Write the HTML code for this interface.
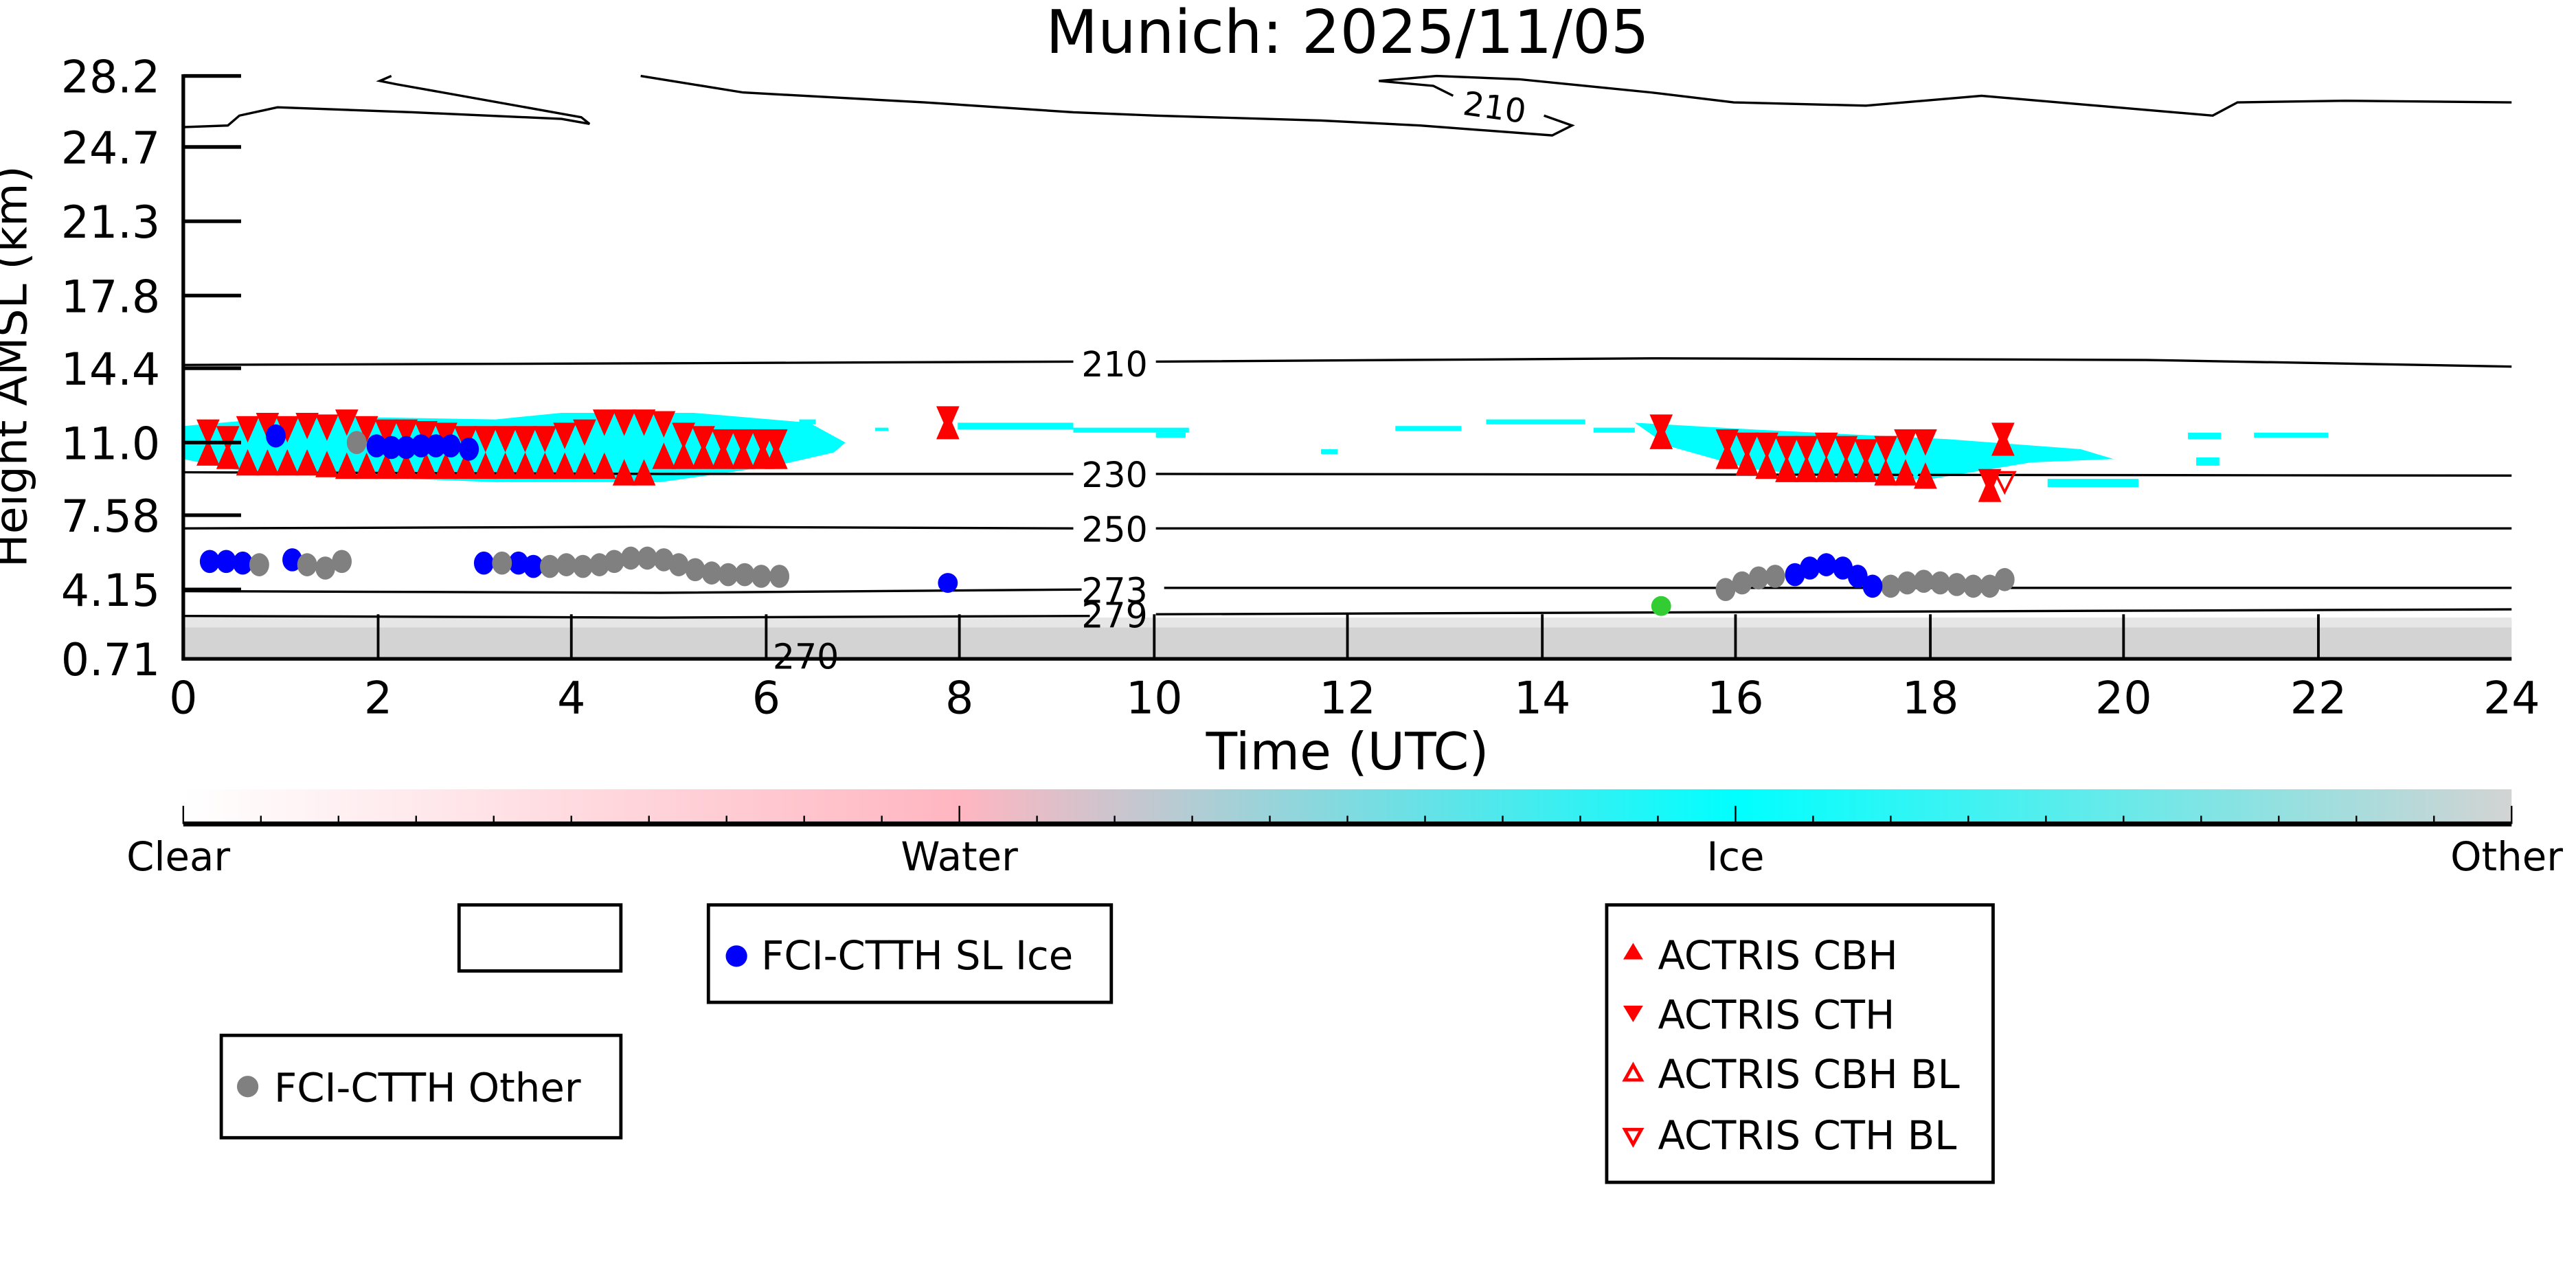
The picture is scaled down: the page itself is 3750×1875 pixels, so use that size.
<!DOCTYPE html>
<html><head><meta charset="utf-8"><style>
html,body{margin:0;padding:0;background:#fff;width:3750px;height:1875px;overflow:hidden}
svg{display:block}
text{font-family:"DejaVu Sans","Liberation Sans",sans-serif}
</style></head><body>
<svg width="3750" height="1875" viewBox="0 0 1560 780" xmlns="http://www.w3.org/2000/svg">
<defs>
<polygon id="u" points="0,-8 -7,8 7,8" fill="#f00"/>
<polygon id="d" points="-7,-8 7,-8 0,8" fill="#f00"/>
<polygon id="k" points="0,-9 -4,0 0,9 4,0" fill="#0ff"/>
<linearGradient id="cb" x1="0" x2="1" y1="0" y2="0">
<stop offset="0" stop-color="#fff"/><stop offset="0.333" stop-color="#ffb6c1"/><stop offset="0.667" stop-color="#00ffff"/><stop offset="1" stop-color="#d3d3d3"/>
</linearGradient>
</defs>
<text x="816" y="32" font-size="36.5" text-anchor="middle">Munich: 2025/11/05</text>
<!-- ground -->
<rect x="111" y="376" width="1410" height="23" fill="#d3d3d3"/>
<rect x="111" y="374" width="1410" height="6" fill="#e6e6e6"/>
<!-- cyan left -->
<path d="M111,258 L180,252 L300,254 L340,250 L420,250 L490,256 L512,268 L505,274 L470,282 L400,292 L300,292 L150,286 L111,278 Z" fill="#0ff"/>
<g fill="#0ff">
<rect x="484" y="254" width="10" height="3"/><rect x="530" y="259" width="8" height="2"/>
<rect x="580" y="256" width="70" height="4"/><rect x="650" y="259" width="70" height="3"/><rect x="700" y="262" width="18" height="3"/>
<rect x="800" y="272" width="10" height="3"/><rect x="845" y="258" width="40" height="3"/><rect x="900" y="254" width="60" height="3"/><rect x="965" y="259" width="25" height="3"/>
<path d="M990,256 L1060,260 L1180,266 L1260,272 L1280,278 L1230,280 L1170,290 L1120,290 L1060,284 L1010,270 Z"/>
<rect x="1240" y="290" width="55" height="5"/><rect x="1325" y="262" width="20" height="4"/><rect x="1330" y="277" width="14" height="5"/><rect x="1365" y="262" width="45" height="3"/>
</g>
<!-- contours -->
<g fill="none" stroke="#000" stroke-width="1.4">
<path d="M111,77 L138,76 L145,70 L168,65 L250,68 L340,72 L357,75 L352,71 L240,51 L230,49 L237,46"/>
<path d="M388,46 L450,56 L560,62 L650,68 L700,70 L800,73 L860,76 L940,82 L952,76 L935,70"/>
<path d="M880,58 L868,52 L835,49 L870,46 L920,48 L1000,56 L1050,62 L1130,64 L1200,58 L1340,70 L1355,62 L1420,61 L1521,62"/>
<path d="M111,221 L400,220 L650,219"/><path d="M700,219 L1000,217 L1300,218 L1521,222"/>
<path d="M111,286 L400,287 L650,287"/><path d="M700,287 L1521,288"/>
<path d="M111,320 L400,319 L650,320"/><path d="M700,320 L1521,320"/>
<path d="M111,358 L400,359 L655,357"/><path d="M705,356 L1521,356"/>
<path d="M111,373 L400,374 L660,373"/><path d="M700,372 L1521,369"/>
</g>
<text x="905" y="72" font-size="20" transform="rotate(8 905 66)" text-anchor="middle">210</text>
<g font-size="21" text-anchor="middle">
<text x="675" y="228">210</text><text x="675" y="295">230</text><text x="675" y="328">250</text><text x="675" y="365">273</text><text x="675" y="380">279</text><text x="488" y="405">270</text>
</g>
<g>
<use href="#k" x="129" y="268"/><use href="#k" x="152" y="268"/><use href="#k" x="176" y="268"/><use href="#k" x="199" y="268"/><use href="#k" x="222" y="268"/><use href="#k" x="246" y="268"/><use href="#k" x="270" y="268"/><use href="#k" x="293" y="270"/><use href="#k" x="316" y="270"/><use href="#k" x="340" y="270"/><use href="#k" x="363" y="268"/><use href="#k" x="386" y="268"/><use href="#k" x="410" y="268"/><use href="#k" x="433" y="270"/><use href="#k" x="456" y="270"/>
<use href="#d" x="126" y="262"/><use href="#d" x="138" y="266"/><use href="#d" x="150" y="260"/><use href="#d" x="162" y="258"/><use href="#d" x="174" y="260"/><use href="#d" x="186" y="258"/><use href="#d" x="198" y="259"/><use href="#d" x="210" y="256"/><use href="#d" x="222" y="260"/><use href="#d" x="234" y="262"/><use href="#d" x="246" y="262"/><use href="#d" x="258" y="263"/><use href="#d" x="270" y="264"/><use href="#d" x="282" y="266"/><use href="#d" x="294" y="266"/><use href="#d" x="306" y="266"/><use href="#d" x="318" y="266"/><use href="#d" x="330" y="266"/><use href="#d" x="342" y="264"/><use href="#d" x="354" y="262"/><use href="#d" x="366" y="256"/><use href="#d" x="378" y="256"/><use href="#d" x="390" y="256"/><use href="#d" x="402" y="257"/><use href="#d" x="414" y="264"/><use href="#d" x="426" y="266"/><use href="#d" x="438" y="268"/><use href="#d" x="450" y="268"/><use href="#d" x="462" y="268"/><use href="#d" x="470" y="268"/>
<use href="#u" x="126" y="274"/><use href="#u" x="138" y="276"/><use href="#u" x="150" y="280"/><use href="#u" x="162" y="280"/><use href="#u" x="174" y="280"/><use href="#u" x="186" y="280"/><use href="#u" x="198" y="281"/><use href="#u" x="210" y="282"/><use href="#u" x="222" y="282"/><use href="#u" x="234" y="282"/><use href="#u" x="246" y="282"/><use href="#u" x="258" y="282"/><use href="#u" x="270" y="282"/><use href="#u" x="282" y="282"/><use href="#u" x="294" y="282"/><use href="#u" x="306" y="282"/><use href="#u" x="318" y="282"/><use href="#u" x="330" y="282"/><use href="#u" x="342" y="282"/><use href="#u" x="354" y="282"/><use href="#u" x="366" y="282"/><use href="#u" x="378" y="286"/><use href="#u" x="390" y="286"/><use href="#u" x="402" y="276"/><use href="#u" x="414" y="276"/><use href="#u" x="426" y="276"/><use href="#u" x="438" y="276"/><use href="#u" x="450" y="276"/><use href="#u" x="462" y="276"/><use href="#u" x="470" y="276"/>
<use href="#d" x="574" y="254"/><use href="#u" x="574" y="258"/>
<use href="#d" x="1006" y="259"/><use href="#u" x="1006" y="264"/>
<use href="#d" x="1213" y="264"/><use href="#u" x="1213" y="268"/>
<use href="#d" x="1205" y="292"/><use href="#u" x="1205" y="296"/>
<polygon points="1208,286 1220,286 1214,298" fill="none" stroke="#f00" stroke-width="1.5"/>
<use href="#k" x="1060" y="276"/><use href="#k" x="1080" y="278"/><use href="#k" x="1100" y="278"/><use href="#k" x="1120" y="280"/><use href="#k" x="1140" y="280"/><use href="#k" x="1160" y="282"/>
<use href="#d" x="1046" y="268"/><use href="#d" x="1058" y="270"/><use href="#d" x="1070" y="270"/><use href="#d" x="1082" y="272"/><use href="#d" x="1094" y="272"/><use href="#d" x="1106" y="270"/><use href="#d" x="1118" y="272"/><use href="#d" x="1130" y="274"/><use href="#d" x="1142" y="272"/><use href="#d" x="1154" y="268"/><use href="#d" x="1166" y="268"/>
<use href="#u" x="1046" y="276"/><use href="#u" x="1058" y="280"/><use href="#u" x="1070" y="282"/><use href="#u" x="1082" y="284"/><use href="#u" x="1094" y="284"/><use href="#u" x="1106" y="284"/><use href="#u" x="1118" y="284"/><use href="#u" x="1130" y="284"/><use href="#u" x="1142" y="286"/><use href="#u" x="1154" y="286"/><use href="#u" x="1166" y="288"/>
</g>
<g>
<g fill="#0000ff"><ellipse cx="167" cy="264" rx="6" ry="7"/><ellipse cx="228" cy="270" rx="6" ry="7"/><ellipse cx="237" cy="271" rx="6" ry="7"/><ellipse cx="246" cy="271" rx="6" ry="7"/><ellipse cx="255" cy="270" rx="6" ry="7"/><ellipse cx="264" cy="270" rx="6" ry="7"/><ellipse cx="273" cy="270" rx="6" ry="7"/><ellipse cx="284" cy="272" rx="6" ry="7"/></g>
<ellipse cx="216" cy="268" rx="6" ry="7" fill="#808080"/>
<g fill="#0000ff"><ellipse cx="127" cy="340" rx="6" ry="7"/><ellipse cx="137" cy="340" rx="6" ry="7"/><ellipse cx="147" cy="341" rx="6" ry="7"/><ellipse cx="177" cy="339" rx="6" ry="7"/><ellipse cx="293" cy="341" rx="6" ry="7"/><ellipse cx="314" cy="341" rx="6" ry="7"/><ellipse cx="323" cy="343" rx="6" ry="7"/><ellipse cx="574" cy="353" rx="6" ry="6"/></g>
<g fill="#808080"><ellipse cx="157" cy="342" rx="6" ry="7"/><ellipse cx="186" cy="342" rx="6" ry="7"/><ellipse cx="197" cy="344" rx="6" ry="7"/><ellipse cx="207" cy="340" rx="6" ry="7"/><ellipse cx="304" cy="341" rx="6" ry="7"/>
<ellipse cx="333" cy="343" rx="6" ry="7"/><ellipse cx="343" cy="342" rx="6" ry="7"/><ellipse cx="353" cy="343" rx="6" ry="7"/><ellipse cx="363" cy="342" rx="6" ry="7"/><ellipse cx="372" cy="340" rx="6" ry="7"/><ellipse cx="382" cy="338" rx="6" ry="7"/><ellipse cx="392" cy="338" rx="6" ry="7"/><ellipse cx="402" cy="339" rx="6" ry="7"/><ellipse cx="411" cy="342" rx="6" ry="7"/><ellipse cx="421" cy="345" rx="6" ry="7"/><ellipse cx="431" cy="347" rx="6" ry="7"/><ellipse cx="441" cy="348" rx="6" ry="7"/><ellipse cx="451" cy="348" rx="6" ry="7"/><ellipse cx="461" cy="349" rx="6" ry="7"/><ellipse cx="472" cy="349" rx="6" ry="7"/>
<ellipse cx="1045" cy="357" rx="6" ry="7"/><ellipse cx="1055" cy="353" rx="6" ry="7"/><ellipse cx="1065" cy="350" rx="6" ry="7"/><ellipse cx="1075" cy="349" rx="6" ry="7"/><ellipse cx="1145" cy="355" rx="6" ry="7"/><ellipse cx="1155" cy="353" rx="6" ry="7"/><ellipse cx="1165" cy="352" rx="6" ry="7"/><ellipse cx="1175" cy="353" rx="6" ry="7"/><ellipse cx="1185" cy="354" rx="6" ry="7"/><ellipse cx="1195" cy="355" rx="6" ry="7"/><ellipse cx="1205" cy="355" rx="6" ry="7"/><ellipse cx="1214" cy="351" rx="6" ry="7"/></g>
<g fill="#0000ff"><ellipse cx="1087" cy="348" rx="6" ry="7"/><ellipse cx="1096" cy="344" rx="6" ry="7"/><ellipse cx="1106" cy="342" rx="6" ry="7"/><ellipse cx="1116" cy="344" rx="6" ry="7"/><ellipse cx="1125" cy="349" rx="6" ry="7"/><ellipse cx="1134" cy="355" rx="6" ry="7"/></g>
<ellipse cx="1006" cy="367" rx="6" ry="6" fill="#32cd32"/>
</g>
<g stroke="#000" stroke-width="2.2">
<line x1="111" y1="45" x2="111" y2="400"/><line x1="110" y1="399" x2="1521" y2="399"/>
<line x1="111" y1="46" x2="146" y2="46"/><line x1="111" y1="89" x2="146" y2="89"/><line x1="111" y1="134" x2="146" y2="134"/><line x1="111" y1="179" x2="146" y2="179"/><line x1="111" y1="223" x2="146" y2="223"/><line x1="111" y1="268" x2="146" y2="268"/><line x1="111" y1="312" x2="146" y2="312"/><line x1="111" y1="357" x2="146" y2="357"/>
</g>
<g stroke="#000" stroke-width="1.6">
<line x1="229" y1="399" x2="229" y2="372"/><line x1="346" y1="399" x2="346" y2="372"/><line x1="464" y1="399" x2="464" y2="372"/><line x1="581" y1="399" x2="581" y2="372"/><line x1="699" y1="399" x2="699" y2="372"/><line x1="816" y1="399" x2="816" y2="372"/><line x1="934" y1="399" x2="934" y2="372"/><line x1="1051" y1="399" x2="1051" y2="372"/><line x1="1169" y1="399" x2="1169" y2="372"/><line x1="1286" y1="399" x2="1286" y2="372"/><line x1="1404" y1="399" x2="1404" y2="372"/>
</g>
<g font-size="27">
<g text-anchor="end"><text x="97" y="56">28.2</text><text x="97" y="99">24.7</text><text x="97" y="144">21.3</text><text x="97" y="189">17.8</text><text x="97" y="233">14.4</text><text x="97" y="278">11.0</text><text x="97" y="322">7.58</text><text x="97" y="367">4.15</text><text x="97" y="409">0.71</text></g>
<g text-anchor="middle"><text x="111" y="432">0</text><text x="229" y="432">2</text><text x="346" y="432">4</text><text x="464" y="432">6</text><text x="581" y="432">8</text><text x="699" y="432">10</text><text x="816" y="432">12</text><text x="934" y="432">14</text><text x="1051" y="432">16</text><text x="1169" y="432">18</text><text x="1286" y="432">20</text><text x="1404" y="432">22</text><text x="1521" y="432">24</text></g>
<text x="816" y="466" font-size="31" text-anchor="middle">Time (UTC)</text>
<text transform="translate(16 222) rotate(-90)" font-size="27" text-anchor="middle">Height AMSL (km)</text>
</g>
<rect x="111" y="478" width="1410" height="20" fill="url(#cb)"/>
<line x1="111" y1="499" x2="1521" y2="499" stroke="#000" stroke-width="3"/>
<g stroke="#000" stroke-width="1">
<line x1="111" y1="488" x2="111" y2="499"/><line x1="581" y1="488" x2="581" y2="499"/><line x1="1051" y1="488" x2="1051" y2="499"/><line x1="1521" y1="488" x2="1521" y2="499"/>
<path d="M158,494V499M205,494V499M252,494V499M299,494V499M346,494V499M393,494V499M440,494V499M487,494V499M534,494V499M628,494V499M675,494V499M722,494V499M769,494V499M816,494V499M863,494V499M910,494V499M957,494V499M1004,494V499M1098,494V499M1145,494V499M1192,494V499M1239,494V499M1286,494V499M1333,494V499M1380,494V499M1427,494V499M1474,494V499"/>
</g>
<g font-size="24" text-anchor="middle"><text x="108" y="527">Clear</text><text x="581" y="527">Water</text><text x="1051" y="527">Ice</text><text x="1518" y="527">Other</text></g>
<g fill="none" stroke="#000" stroke-width="2">
<rect x="278" y="548" width="98" height="40"/>
<rect x="429" y="548" width="244" height="59"/>
<rect x="134" y="627" width="242" height="62"/>
<rect x="973" y="548" width="234" height="168"/>
</g>
<g font-size="24">
<circle cx="446" cy="579" r="6.5" fill="#0000ff"/><text x="461" y="587">FCI-CTTH SL Ice</text>
<circle cx="150" cy="658" r="6.5" fill="#808080"/><text x="166" y="667">FCI-CTTH Other</text>
<polygon points="989,571 983,581 995,581" fill="#f00"/><text x="1004" y="587">ACTRIS CBH</text>
<polygon points="983,609 995,609 989,619" fill="#f00"/><text x="1004" y="623">ACTRIS CTH</text>
<polygon points="989,645 984,654 994,654" fill="none" stroke="#f00" stroke-width="2"/><text x="1004" y="659">ACTRIS CBH BL</text>
<polygon points="984,684 994,684 989,693" fill="none" stroke="#f00" stroke-width="2"/><text x="1004" y="696">ACTRIS CTH BL</text>
</g>
</svg>
</body></html>
